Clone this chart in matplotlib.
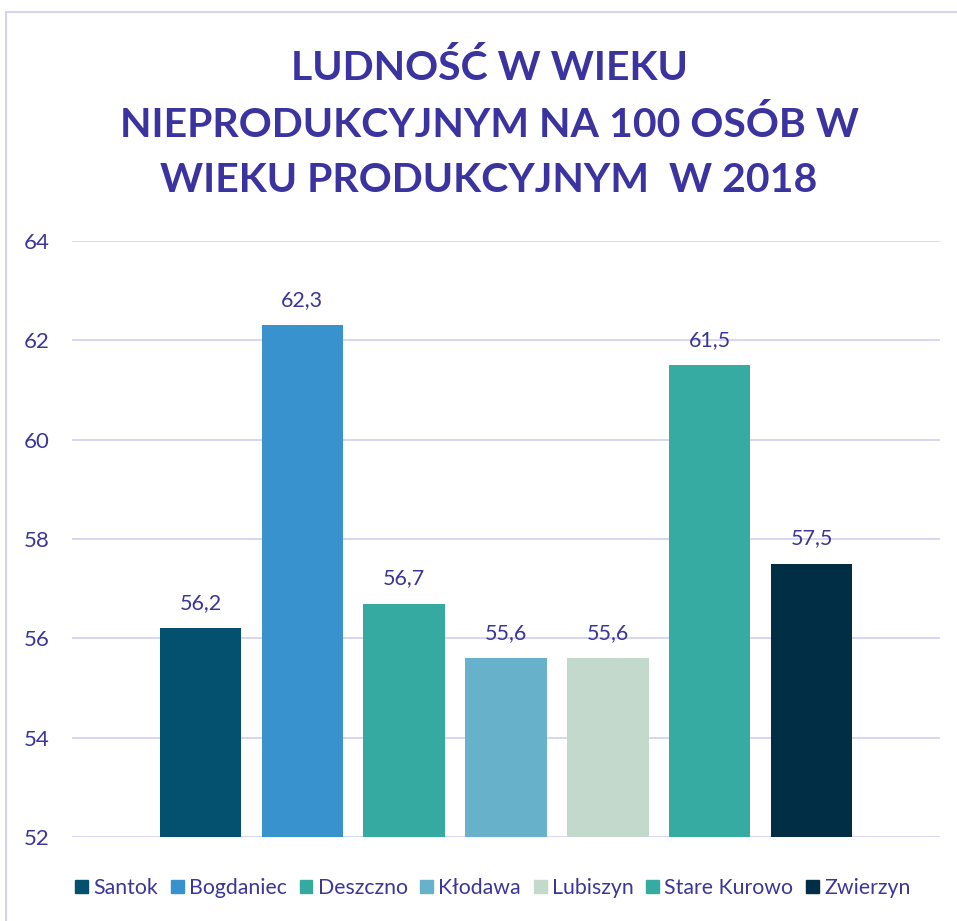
import matplotlib
matplotlib.use("Agg")
import matplotlib.pyplot as plt
from matplotlib.patches import Rectangle, Patch

gminy = ["Santok", "Bogdaniec", "Deszczno", "Kłodawa", "Lubiszyn", "Stare Kurowo", "Zwierzyn"]
wartosci = [56.2, 62.3, 56.7, 55.6, 55.6, 61.5, 57.5]
kolory = ["#03506F", "#3792CE", "#35AAA1", "#67B2CA", "#C2D9CC", "#35ABA1", "#022E45"]
yticks = [52, 54, 56, 58, 60, 62, 64]

tytul = "LUDNOŚĆ W WIEKU\nNIEPRODUKCYJNYM NA 100 OSÓB W\nWIEKU PRODUKCYJNYM  W 2018"

txt_col = "#3B3698"
grid_col = "#D6D2F0"

plt.rcParams["font.family"] = ["Lato", "DejaVu Sans"]

fig = plt.figure(figsize=(9.57, 9.21), dpi=100)
ax = fig.add_axes([72 / 957, 1 - 837 / 921, 868 / 957, (837 - 241) / 921])

x = list(range(len(gminy)))
bars = ax.bar(x, [v - 52 for v in wartosci], bottom=52, width=0.8, color=kolory, zorder=3)

for xi, v in zip(x, wartosci):
    ax.annotate(f"{v:.1f}".replace(".", ","), (xi, v), xytext=(0, 11),
                textcoords="offset points", ha="center", va="bottom",
                fontsize=15.5, color=txt_col)

ax.set_ylim(52, 64)
ax.set_xlim(-1.262, len(gminy) - 1 + 1.262)
ax.set_yticks(yticks)
ax.set_yticklabels([str(t) for t in yticks], fontsize=16, color=txt_col)
ax.set_xticks([])
ax.tick_params(axis="y", length=0, pad=16)
ax.grid(axis="y", color=grid_col, linewidth=1.3, zorder=0)
for s in ax.spines.values():
    s.set_visible(False)

fig.text(489 / 957, 1 - 124 / 921, tytul, ha="center", va="center",
         fontsize=29.5, fontweight="bold", color="#3A33A0", linespacing=1.62)

handles = [Patch(color=c, label=g) for g, c in zip(gminy, kolory)]
leg = fig.legend(handles=handles, loc="center", bbox_to_anchor=(493 / 957, 1 - 888 / 921),
                 ncol=7, frameon=False, fontsize=15.3, handlelength=0.6, handleheight=0.6,
                 handletextpad=0.25, columnspacing=0.6)
for t in leg.get_texts():
    t.set_color(txt_col)

fig.patches.append(Rectangle((6 / 957, -0.01), 1.0, 1 - 12 / 921 + 0.01,
                             transform=fig.transFigure, fill=False,
                             edgecolor=grid_col, linewidth=1.5))

fig.savefig("out.png", dpi=100)
